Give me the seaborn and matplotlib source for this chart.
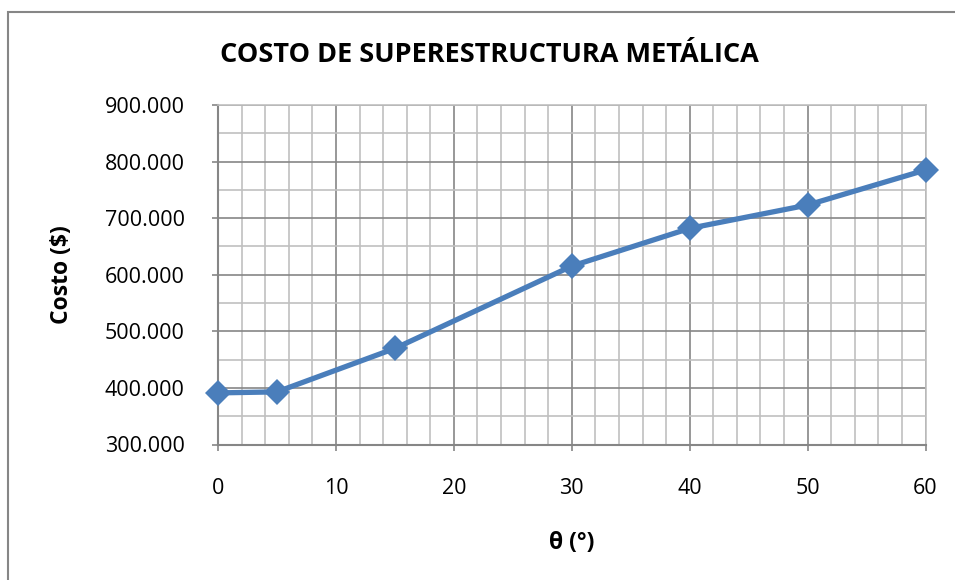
import pandas as pd
import matplotlib.pyplot as plt
import seaborn as sns
from matplotlib.ticker import MultipleLocator, FuncFormatter
from matplotlib.patches import Rectangle

# datos
theta = [0, 5, 15, 30, 40, 50, 60]
costo = [391200, 393000, 469800, 615300, 682000, 723200, 785100]

titulo = 'COSTO DE SUPERESTRUCTURA METÁLICA'
xlabel = 'θ (°)'
ylabel = 'Costo ($)'

df = pd.DataFrame({'theta': theta, 'costo': costo})

sns.set_style('white')
plt.rcParams['font.family'] = ['Open Sans', 'DejaVu Sans']
plt.rcParams['text.color'] = 'black'
plt.rcParams['axes.labelcolor'] = 'black'

fig = plt.figure(figsize=(9.55, 5.8), dpi=100)
ax = fig.add_axes([218 / 955, 1 - 444.5 / 580, 707.5 / 955, 339.5 / 580])

major_c = '#868686'
minor_c = '#c0c0c0'

sns.lineplot(data=df, x='theta', y='costo', ax=ax, color='#4a7ebb',
             linewidth=3.8, marker='D', markersize=13, markeredgewidth=0,
             zorder=5, clip_on=False)

ax.set_xlim(0, 60)
ax.set_ylim(300000, 900000)
ax.xaxis.set_major_locator(MultipleLocator(10))
ax.xaxis.set_minor_locator(MultipleLocator(2))
ax.yaxis.set_major_locator(MultipleLocator(100000))
ax.yaxis.set_minor_locator(MultipleLocator(50000))
ax.yaxis.set_major_formatter(FuncFormatter(lambda v, p: f'{int(v):,}'.replace(',', '.')))

ax.grid(which='major', color=major_c, linewidth=1.2)
ax.grid(which='minor', color=minor_c, linewidth=1.2)
ax.set_axisbelow(True)

for s in ['left', 'bottom']:
    ax.spines[s].set_color(major_c)
    ax.spines[s].set_linewidth(1.5)
for s in ['top', 'right']:
    ax.spines[s].set_color(minor_c)
    ax.spines[s].set_linewidth(1.2)

ax.tick_params(which='major', direction='out', length=4, width=1.2, color=major_c,
               labelsize=15.5, labelcolor='black', left=True, bottom=True)
ax.tick_params(axis='y', pad=20)
ax.tick_params(axis='x', pad=20)
ax.tick_params(which='minor', length=0)

ax.set_xlabel(xlabel, fontsize=16.5, fontweight='bold', labelpad=23, color='black')
ax.set_ylabel(ylabel, fontsize=16.5, fontweight='bold', labelpad=22, color='black')
fig.text(489 / 955, 1 - 55 / 580, titulo, ha='center', va='center',
         fontsize=19.5, fontweight='bold', color='black')

# marco exterior del grafico
fig.patches.append(Rectangle((8 / 955, -0.1), 2, 1.1 - 12 / 580,
                             transform=fig.transFigure, fill=False,
                             edgecolor='#868686', linewidth=1.5))

plt.savefig('out.png', dpi=100)
plt.close()
